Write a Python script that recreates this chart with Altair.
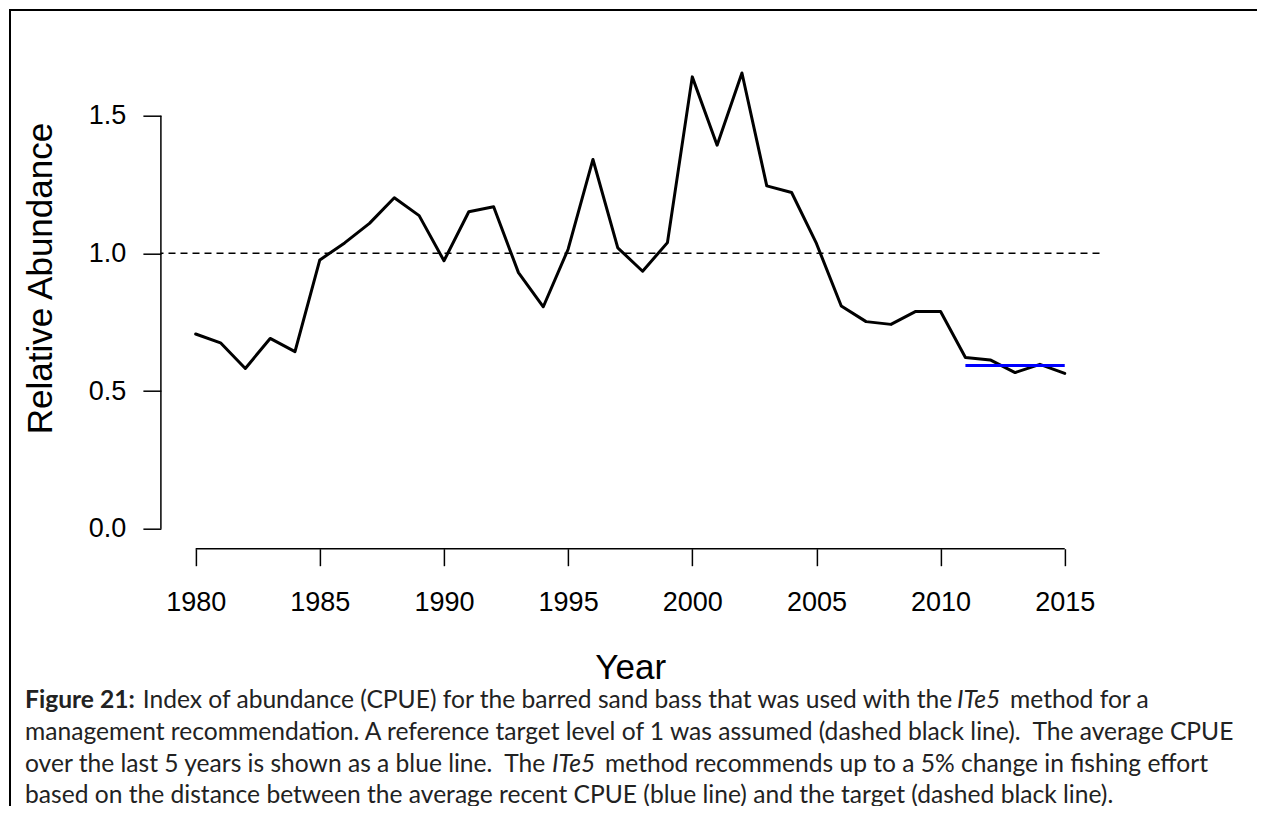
import altair as alt
import pandas as pd

# ---------------- data ----------------
years = list(range(1980, 2016))
cpue = [0.707, 0.675, 0.582, 0.691, 0.643, 0.976, 1.038, 1.109, 1.202, 1.137,
        0.973, 1.151, 1.169, 0.930, 0.806, 1.015, 1.341, 1.020, 0.935, 1.039,
        1.641, 1.393, 1.655, 1.245, 1.221, 1.036, 0.809, 0.752, 0.742, 0.789,
        0.789, 0.622, 0.613, 0.567, 0.597, 0.564]
recent_span = [2011, 2015]
recent_avg = 0.593
target_level = 1.0
x_ticks = [1980, 1985, 1990, 1995, 2000, 2005, 2010, 2015]
y_ticks = [0.0, 0.5, 1.0, 1.5]
x_label = "Year"
y_label = "Relative Abundance"

cap1_bold = "Figure 21:"
cap1_a = "Index of abundance (CPUE) for the barred sand bass that was used with the"
cap1_it = "ITe5"
cap1_b = "method for a"
cap2 = "management recommendation. A reference target level of 1 was assumed (dashed black line).\u00a0 The average CPUE"
cap3_a = "over the last 5 years is shown as a blue line.\u00a0 The"
cap3_it = "ITe5"
cap3_b = "method recommends up to a 5% change in fishing effort"
cap4 = "based on the distance between the average recent CPUE (blue line) and the target (dashed black line)."

# ---------------- layout ----------------
X_DOMAIN = [1978.6, 2016.4]
Y_DOMAIN = [-0.0728, 1.8487]
W, H = 938.6, 529
PAD = {"left": 152.9, "top": 11.7, "right": 157.5, "bottom": 257.3}


def px(xp):
    return xp - 8 - PAD["left"]


def py(yp):
    return yp - 8 - PAD["top"]


AX_FONT = "Liberation Sans"
CAP_FONT = "Lato"
CAP_SIZE = 24.6

xs = alt.Scale(domain=X_DOMAIN, nice=False, zero=False)
ys = alt.Scale(domain=Y_DOMAIN, nice=False, zero=False)

df = pd.DataFrame({"year": years, "cpue": cpue})

x_axis = alt.Axis(values=x_ticks, format="d", domain=False, grid=False,
                  tickSize=17, tickWidth=1.5, tickColor="black",
                  labelFont=AX_FONT, labelFontSize=27, labelColor="black",
                  labelBaseline="alphabetic", labelPadding=44.4,
                  labelFlush=False, labelOverlap=False,
                  title=x_label, titleFont=AX_FONT, titleFontSize=35,
                  titleFontWeight="normal", titleColor="black",
                  titleX=W / 2, titleY=129.7, titleBaseline="alphabetic",
                  titleAlign="center", titleAngle=0)
y_axis = alt.Axis(values=y_ticks, format=".1f", domain=False, grid=False,
                  tickSize=18, tickWidth=1.5, tickColor="black",
                  labelFont=AX_FONT, labelFontSize=27, labelColor="black",
                  labelPadding=17, labelFlush=False, labelOverlap=False,
                  title=y_label, titleFont=AX_FONT, titleFontSize=35,
                  titleFontWeight="normal", titleColor="black",
                  titleX=px(51.7), titleY=py(278), titleBaseline="alphabetic",
                  titleAlign="center", titleAngle=270)

main = alt.Chart(df).mark_line(color="black", strokeWidth=3,
                               strokeJoin="round", strokeCap="round").encode(
    x=alt.X("year:Q", scale=xs, axis=x_axis),
    y=alt.Y("cpue:Q", scale=ys, axis=y_axis),
)

target = alt.Chart(pd.DataFrame({"y": [target_level]})).mark_rule(
    color="black", strokeWidth=1.5, strokeDash=[7, 5]).encode(
    y=alt.Y("y:Q", scale=ys, axis=y_axis))

recent = alt.Chart(pd.DataFrame({"x": [recent_span[0]], "x2": [recent_span[1]],
                                 "y": [recent_avg]})).mark_rule(
    color="#0000FF", strokeWidth=3).encode(
    x=alt.X("x:Q", scale=xs, axis=x_axis), x2="x2:Q",
    y=alt.Y("y:Q", scale=ys, axis=y_axis))

xline = alt.Chart(pd.DataFrame({"x": [x_ticks[0]], "x2": [x_ticks[-1]],
                                "y": [Y_DOMAIN[0]]})).mark_rule(
    color="black", strokeWidth=1.5).encode(
    x=alt.X("x:Q", scale=xs, axis=x_axis), x2="x2:Q",
    y=alt.Y("y:Q", scale=ys, axis=y_axis))

yline = alt.Chart(pd.DataFrame({"x": [X_DOMAIN[0]], "y": [y_ticks[0]],
                                "y2": [y_ticks[-1]]})).mark_rule(
    color="black", strokeWidth=1.5).encode(
    x=alt.X("x:Q", scale=xs, axis=x_axis),
    y=alt.Y("y:Q", scale=ys, axis=y_axis), y2="y2:Q")

one = pd.DataFrame({"k": [0]})
border_top = alt.Chart(one).mark_rule(color="black", strokeWidth=2).encode(
    x=alt.value(px(9)), x2=alt.value(px(1265)), y=alt.value(py(10)))
border_left = alt.Chart(one).mark_rule(color="black", strokeWidth=2).encode(
    x=alt.value(px(10)), y=alt.value(py(9)), y2=alt.value(py(814)))


def cap(text, xp, yp, weight="normal", style="normal"):
    return alt.Chart(one).mark_text(
        font=CAP_FONT, fontSize=CAP_SIZE, fontWeight=weight, fontStyle=style,
        align="left", baseline="alphabetic", color="#222222").encode(
        x=alt.value(px(xp)), y=alt.value(py(yp)), text=alt.value(text))


L1, L2, L3, L4 = 708, 740, 772, 802.5
captions = [
    cap(cap1_bold, 25, L1, weight="bold"),
    cap(cap1_a, 142.7, L1),
    cap(cap1_it, 957, L1, style="italic"),
    cap(cap1_b, 1010, L1),
    cap(cap2, 25, L2),
    cap(cap3_a, 25, L3),
    cap(cap3_it, 552, L3, style="italic"),
    cap(cap3_b, 605, L3),
    cap(cap4, 25, L4),
]

chart = alt.layer(main, target, recent, xline, yline, border_top, border_left,
                  *captions).properties(
    width=W, height=H, padding=PAD,
    autosize=alt.AutoSizeParams(type="none"),
    background="white",
).configure_view(stroke=None)

chart.save("out.html", embed_options={"renderer": "svg", "actions": False})
